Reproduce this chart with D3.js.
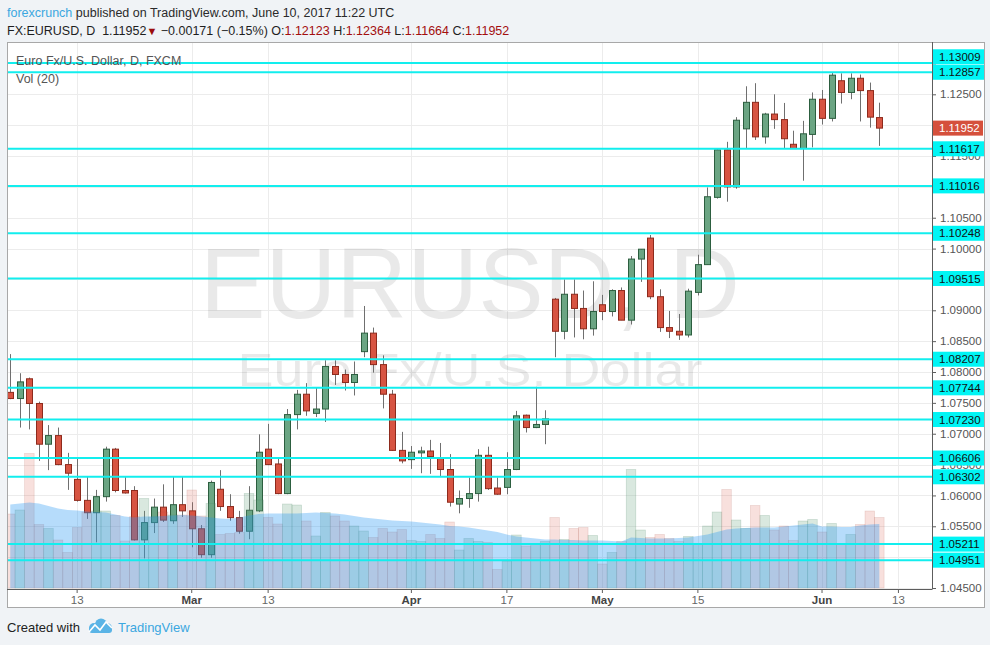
<!DOCTYPE html>
<html><head><meta charset="utf-8">
<script src="https://cdn.jsdelivr.net/npm/d3@7"></script>
<style>
body{margin:0;background:#f0f3f6;}
svg{display:block;font-family:"Liberation Sans",Arial,sans-serif;}
</style>
</head><body><svg id="c" width="990" height="645"></svg>
<script>
// ---------------- DATA ----------------
const open  = [1.0767,1.0757,1.0789,1.0749,1.0683,1.0697,1.0650,1.0626,1.0592,1.0572,1.0598,1.0675,1.0608,1.0608,1.0528,1.0556,1.0581,1.0559,1.0585,1.0575,1.0546,1.0504,1.0610,1.0582,1.0564,1.0542,1.0575,1.0675,1.0651,1.0603,1.0731,1.0764,1.0733,1.0740,1.0809,1.0796,1.0783,1.0833,1.0863,1.0812,1.0764,1.0673,1.0658,1.0669,1.0672,1.0661,1.0642,1.0586,1.0595,1.0603,1.0665,1.0612,1.0613,1.0642,1.0730,1.0710,1.0715,1.0918,1.0866,1.0926,1.0903,1.0870,1.0909,1.0898,1.0932,1.0884,1.0983,1.1017,1.0922,1.0872,1.0866,1.0860,1.0929,1.0974,1.1083,1.1160,1.1100,1.1194,1.1237,1.1181,1.1218,1.1209,1.1169,1.1162,1.1185,1.1242,1.1211,1.1272,1.1253,1.1276,1.1256,1.12123];
const high  = [1.0829,1.0798,1.0791,1.0752,1.0714,1.0710,1.0669,1.0659,1.0631,1.0609,1.0679,1.0677,1.0631,1.0615,1.0575,1.0595,1.0618,1.0631,1.0630,1.0589,1.0552,1.0624,1.0641,1.0602,1.0575,1.0615,1.0699,1.0716,1.0660,1.0740,1.0771,1.0782,1.0775,1.0819,1.0819,1.0804,1.0817,1.0907,1.0872,1.0827,1.0771,1.0703,1.0680,1.0679,1.0690,1.0685,1.0667,1.0608,1.0629,1.0675,1.0679,1.0629,1.0670,1.0737,1.0731,1.0776,1.0738,1.0920,1.0950,1.0950,1.0932,1.0947,1.0925,1.0934,1.0937,1.0988,1.0999,1.1022,1.0934,1.0899,1.0894,1.0935,1.0990,1.1099,1.1162,1.1173,1.1213,1.1263,1.1268,1.1220,1.1250,1.1236,1.1191,1.1207,1.1253,1.1257,1.1285,1.1284,1.1284,1.1282,1.1269,1.12364];
const low   = [1.0756,1.0710,1.0707,1.0656,1.0641,1.0649,1.0609,1.0590,1.0562,1.0524,1.0590,1.0605,1.0603,1.0527,1.0498,1.0539,1.0557,1.0554,1.0565,1.0516,1.0499,1.0499,1.0575,1.0559,1.0538,1.0529,1.0573,1.0649,1.0602,1.0602,1.0707,1.0729,1.0727,1.0719,1.0779,1.0770,1.0762,1.0824,1.0799,1.0741,1.0672,1.0652,1.0643,1.0636,1.0635,1.0630,1.0582,1.0571,1.0580,1.0590,1.0609,1.0601,1.0602,1.0641,1.0702,1.0709,1.0683,1.0824,1.0853,1.0856,1.0853,1.0859,1.0884,1.0890,1.0884,1.0877,1.0946,1.0918,1.0865,1.0855,1.0852,1.0856,1.0924,1.0974,1.1081,1.1076,1.1097,1.1162,1.1176,1.1170,1.1194,1.1162,1.1162,1.1110,1.1164,1.1201,1.1206,1.1235,1.1242,1.1206,1.1196,1.11664];
const close = [1.0757,1.0784,1.0749,1.0683,1.0697,1.0650,1.0636,1.0592,1.0572,1.0598,1.0675,1.0608,1.0604,1.0528,1.0556,1.0581,1.0560,1.0585,1.0575,1.0546,1.0504,1.0621,1.0582,1.0564,1.0542,1.0576,1.0670,1.0650,1.0603,1.0731,1.0764,1.0737,1.0740,1.0809,1.0796,1.0783,1.0796,1.0863,1.0812,1.0764,1.0673,1.0656,1.0670,1.0672,1.0663,1.0642,1.0589,1.0595,1.0603,1.0665,1.0611,1.0602,1.0642,1.0729,1.0710,1.0715,1.0724,1.0866,1.0926,1.0903,1.0870,1.0898,1.0898,1.0932,1.0884,1.0983,1.0999,1.0922,1.0872,1.0866,1.0860,1.0931,1.0974,1.1084,1.1160,1.1100,1.1208,1.1237,1.1181,1.1218,1.1209,1.1178,1.1162,1.1186,1.1242,1.1211,1.1281,1.1253,1.1276,1.1256,1.1213,1.11952];
const volume = [148,156,269,127,119,96,71,121,152,154,154,145,94,143,179,142,152,146,146,196,144,169,107,109,111,189,176,141,128,168,166,134,104,151,144,134,124,114,101,119,112,117,95,93,107,99,132,76,99,93,91,37,54,106,84,87,93,141,97,119,121,105,48,71,93,237,116,101,107,99,93,103,87,124,152,197,136,119,165,145,116,124,95,134,137,112,129,89,107,127,154,141];
const volMA = [167,169,171,169,164,159,156,155,153,152,151,147,143,141,143,143,144,145,146,145,143,141,139,138,141,145,148,149,149,149,149,150,151,150,149,147,144,141,139,137,135,134,133,131,129,127,124,123,121,118,115,112,107,103,101,99,97,97,96,96,95,95,95,94,93,101,100,99,99,99,100,101,104,107,112,117,119,120,121,121,121,123,125,127,129,123,123,122,122,125,127,128];
const levels = [1.13009,1.12857,1.11617,1.11016,1.10248,1.09515,1.08207,1.07744,1.07230,1.06606,1.06302,1.05211,1.04951];
const lastPrice = 1.11952;
const tickDates  = ["2017-02-13","2017-03-01","2017-03-13","2017-04-03","2017-04-17","2017-05-01","2017-05-15","2017-06-01","2017-06-13"];
const tickLabels = ["13","Mar","13","Apr","17","May","15","Jun","13"];
const priceTicks = [1.045,1.050,1.055,1.060,1.065,1.070,1.075,1.080,1.085,1.090,1.095,1.100,1.105,1.110,1.115,1.120,1.125,1.130];

// ---------------- SETUP ----------------
const svg = d3.select("#c");
const fmt = d3.timeFormat("%Y-%m-%d");
const days = d3.timeDay.range(new Date(2017,1,2), new Date(2017,5,14))
  .filter(d => d.getDay()!==0 && d.getDay()!==6).map(fmt);
const dates = days.slice(0, open.length);
const rows = dates.map((d,i)=>({d, o:open[i], h:high[i], l:low[i], c:close[i], v:volume[i], ma:volMA[i]}));

const step = 9.55;
const x = d3.scaleBand().domain(days).range([5.5, 5.5 + days.length*step]).padding(0);
const cx = d => x(d) + x.bandwidth()/2;
const y = d3.scaleLinear().domain([1.045, 1.125]).range([588, 94.3]);
const vy = d3.scaleLinear().domain([0, 300]).range([588, 438]);

const L=7, R=932, T=42, B=589;
const UP="#6ba583", DN="#d75442";

// header
const h1 = svg.append("text").attr("x",7).attr("y",17).attr("font-size",12.5).style("white-space","pre");
h1.append("tspan").attr("fill","#3ba7e0").text("forexcrunch");
h1.append("tspan").attr("fill","#2a2a2a").text(" published on TradingView.com, June 10, 2017 11:22 UTC");
const h2 = svg.append("text").attr("x",7).attr("y",35).attr("font-size",12.5).attr("fill","#1e1e1e").style("white-space","pre");
h2.append("tspan").text("FX:EURUSD, D  1.11952");
h2.append("tspan").attr("fill","#9b0d0d").attr("font-size",11).text("▼");
h2.append("tspan").text(" −0.00171 (−0.15%) ");
[["O:","1.12123"],["H:","1.12364"],["L:","1.11664"],["C:","1.11952"]].forEach(([k,v],i)=>{
  h2.append("tspan").text((i?" ":"")+k);
  h2.append("tspan").attr("fill","#a30e0e").text(v);
});

// pane
svg.append("rect").attr("x",L+0.5).attr("y",T+0.5).attr("width",985-L-1).attr("height",608-T-1)
  .attr("fill","#fff").attr("stroke","#a8a8a8");
svg.append("defs").append("clipPath").attr("id","pc").append("rect")
  .attr("x",L+1).attr("y",T+1).attr("width",R-L-1).attr("height",B-T-1);
const pane = svg.append("g").attr("clip-path","url(#pc)");

// grid
pane.append("g").selectAll("line").data(priceTicks).join("line")
  .attr("x1",L).attr("x2",R).attr("y1",d=>Math.round(y(d))+0.5).attr("y2",d=>Math.round(y(d))+0.5)
  .attr("stroke","#ececec");
pane.append("g").selectAll("line").data(tickDates).join("line")
  .attr("x1",d=>Math.round(cx(d))+0.5).attr("x2",d=>Math.round(cx(d))+0.5).attr("y1",T).attr("y2",B)
  .attr("stroke","#ececec");

// watermark
pane.append("text").attr("x",470).attr("y",318).attr("text-anchor","middle").attr("font-size",100)
  .attr("textLength",540).attr("lengthAdjust","spacingAndGlyphs").attr("fill","rgba(0,0,0,0.085)").text("EURUSD, D");
pane.append("text").attr("x",470).attr("y",386).attr("text-anchor","middle").attr("font-size",47)
  .attr("textLength",465).attr("lengthAdjust","spacingAndGlyphs").attr("fill","rgba(0,0,0,0.085)").text("Euro Fx/U.S. Dollar");

// title
svg.append("text").attr("x",16).attr("y",65).attr("font-size",12.5).attr("fill","#555").text("Euro Fx/U.S. Dollar, D, FXCM");
svg.append("text").attr("x",16).attr("y",83).attr("font-size",12.5).attr("fill","#555").text("Vol (20)");

// candles
const cg = pane.append("g");
cg.selectAll("line").data(rows).join("line")
  .attr("x1",d=>Math.round(cx(d.d))+0.5).attr("x2",d=>Math.round(cx(d.d))+0.5)
  .attr("y1",d=>y(d.h)).attr("y2",d=>y(d.l)).attr("stroke","#6f6f6f").attr("stroke-width",1);
cg.selectAll("rect").data(rows).join("rect")
  .attr("x",d=>Math.round(cx(d.d))-2.5).attr("width",6)
  .attr("y",d=>y(Math.max(d.o,d.c))).attr("height",d=>Math.max(1,Math.abs(y(d.o)-y(d.c))))
  .attr("fill",d=>d.c>=d.o?UP:DN).attr("stroke",d=>d.c>=d.o?"#2c5e3f":"#8e2a1c").attr("stroke-width",1);

// volume
const vg = pane.append("g");
vg.selectAll("rect").data(rows).join("rect")
  .attr("x",d=>x(d.d)).attr("width",x.bandwidth())
  .attr("y",d=>vy(d.v)).attr("height",d=>vy(0)-vy(d.v))
  .attr("fill",d=>d.c>=d.o?"rgba(107,165,131,0.26)":"rgba(215,84,66,0.18)")
  .attr("stroke",d=>d.c>=d.o?"rgba(70,130,100,0.25)":"rgba(170,80,70,0.2)").attr("stroke-width",0.7);
vg.append("path").datum(rows)
  .attr("d", d3.area().x(d=>cx(d.d)).y0(vy(0)).y1(d=>vy(d.ma)).curve(d3.curveLinear))
  .attr("fill","rgba(33,150,243,0.33)");

// levels
pane.append("g").selectAll("line").data(levels).join("line")
  .attr("x1",L).attr("x2",R).attr("y1",d=>y(d)).attr("y2",d=>y(d))
  .attr("stroke","#12eeee").attr("stroke-width",2);

// axes lines
svg.append("line").attr("x1",R+0.5).attr("x2",R+0.5).attr("y1",T).attr("y2",B).attr("stroke","#5d5d5d");
svg.append("line").attr("x1",L).attr("x2",R+0.5).attr("y1",B+0.5).attr("y2",B+0.5).attr("stroke","#5d5d5d");

// level labels with collision
const lab = levels.map(v=>({v, yy:y(v)})).sort((a,b)=>b.yy-a.yy);
const LH=15.5;
for(let i=1;i<lab.length;i++){ if(lab[i-1].yy-lab[i].yy<LH) lab[i].yy = lab[i-1].yy-LH; }
const boxes = lab.map(o=>o.yy).concat([y(lastPrice)]);
// tick labels hidden (almost) entirely behind label boxes are not drawn
const coveredAbove = p => boxes.some(b => b < y(p) && y(p) - b < 9);
const coveredBelow = p => boxes.some(b => b > y(p) && b - y(p) < 10);
const visibleTicks = priceTicks.filter(p => y(p)>T+6
  && !boxes.some(b => Math.abs(b - y(p)) < 5.5)
  && !(coveredAbove(p) && coveredBelow(p)));

// right axis
const ra = svg.append("g").attr("transform",`translate(${R},0)`)
  .call(d3.axisRight(y).tickValues(priceTicks.filter(p=>y(p)>T+6)).tickSize(4).tickPadding(4).tickFormat(d3.format(".5f")));
ra.select(".domain").remove();
ra.selectAll("line").attr("stroke","#5d5d5d");
ra.selectAll("text").attr("font-size",11.5).attr("fill","#555").attr("font-family","Liberation Sans, Arial")
  .style("display", d => visibleTicks.includes(d) ? null : "none");

const lg = svg.append("g");
lab.forEach(o=>{
  lg.append("rect").attr("x",R+1).attr("y",o.yy-7.5).attr("width",51).attr("height",15).attr("fill","#00f5f5");
  lg.append("text").attr("x",R+7).attr("y",o.yy+4).attr("font-size",11.5).attr("fill","#111").text(d3.format(".5f")(o.v));
});
lg.append("rect").attr("x",R+1).attr("y",y(lastPrice)-7.5).attr("width",50).attr("height",15).attr("fill","#d5503c");
lg.append("text").attr("x",R+7).attr("y",y(lastPrice)+4).attr("font-size",11.5).attr("fill","#fff").text(d3.format(".5f")(lastPrice));

// bottom axis
const ba = svg.append("g").attr("transform",`translate(0,${B})`)
  .call(d3.axisBottom(x).tickValues(tickDates).tickSize(4).tickPadding(3).tickFormat((d,i)=>tickLabels[i]));
ba.select(".domain").remove();
ba.selectAll("line").attr("stroke","#5d5d5d");
ba.selectAll("text").attr("font-size",11.5).attr("font-family","Liberation Sans, Arial")
  .attr("fill",(d,i)=>isNaN(+tickLabels[i])?"#444":"#666")
  .attr("font-weight",(d,i)=>isNaN(+tickLabels[i])?"bold":"normal");

// footer
svg.append("text").attr("x",7).attr("y",632).attr("font-size",13).attr("fill","#222").text("Created with");
const logo = svg.append("g");
logo.append("circle").attr("cx",94).attr("cy",628).attr("r",5).attr("fill","#5ab4e6");
logo.append("circle").attr("cx",101).attr("cy",624.5).attr("r",6).attr("fill","#5ab4e6");
logo.append("circle").attr("cx",107).attr("cy",628).attr("r",5).attr("fill","#5ab4e6");
logo.append("rect").attr("x",89).attr("y",627).attr("width",23).attr("height",6).attr("rx",3).attr("fill","#5ab4e6");
logo.append("polyline").attr("points","89,632 95,625 100,630 106,622 112,628").attr("fill","none").attr("stroke","#fff").attr("stroke-width",1.6);
svg.append("text").attr("x",118).attr("y",632).attr("font-size",13).attr("fill","#3ba7e0").text("TradingView");
</script></body></html>
